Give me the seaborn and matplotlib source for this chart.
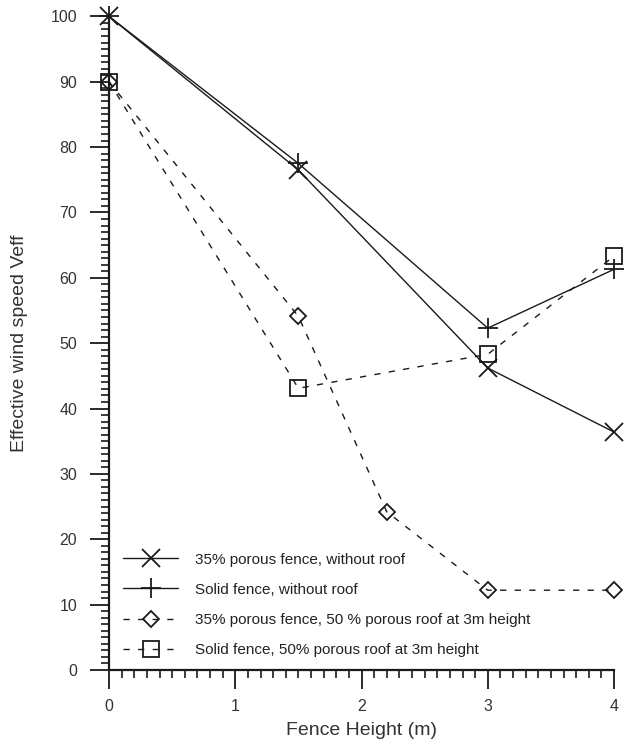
import matplotlib
matplotlib.use("Agg")
import matplotlib.pyplot as plt
import seaborn as sns
import pandas as pd
from matplotlib.ticker import MultipleLocator

# Data
x_no_roof = [0, 1.5, 3, 4]
porous_no_roof = [100, 76.5, 46.2, 36.4]
solid_no_roof = [100, 77.5, 52.3, 61.3]

x_porous_roof = [0, 1.5, 2.2, 3, 4]
porous_roof = [90, 54.1, 24.2, 12.2, 12.2]

x_solid_roof = [0, 1.5, 3, 4]
solid_roof = [90, 43.1, 48.3, 63.3]

labels = [
    "35% porous fence, without roof",
    "Solid fence, without roof",
    "35% porous fence, 50 % porous roof at 3m height",
    "Solid fence, 50% porous roof at 3m height",
]

sns.set_style("ticks")
plt.rcParams["font.family"] = ["Liberation Sans", "DejaVu Sans"]

fig = plt.figure(figsize=(6.25, 7.44), dpi=100)
ax = fig.add_axes([0.1744, 0.0995, 0.808, 0.8785])

ink = "#1a1a1a"
dash = (0, (4.5, 6))

series = [
    (x_no_roof, porous_no_roof, labels[0], "x", 13, "-"),
    (x_no_roof, solid_no_roof, labels[1], "+", 15, "-"),
    (x_porous_roof, porous_roof, labels[2], "D", 8, dash),
    (x_solid_roof, solid_roof, labels[3], "s", 12, dash),
]

for xs, ys, lab, mk, ms, ls in series:
    df = pd.DataFrame({"x": xs, "y": ys})
    sns.lineplot(data=df, x="x", y="y", ax=ax, color=ink, linewidth=1.0,
                 linestyle=ls, marker=mk, markersize=ms, markeredgewidth=1.3,
                 markerfacecolor="none", markeredgecolor=ink, label=lab,
                 clip_on=False, sort=False, errorbar=None)

ax.set_xlim(0, 4)
ax.set_ylim(0, 100)
ax.xaxis.set_major_locator(MultipleLocator(1))
ax.xaxis.set_minor_locator(MultipleLocator(0.1))
ax.yaxis.set_major_locator(MultipleLocator(10))
ax.yaxis.set_minor_locator(MultipleLocator(1))

sns.despine(ax=ax)
for s in ["left", "bottom"]:
    ax.spines[s].set_linewidth(1.6)
    ax.spines[s].set_color(ink)

ax.tick_params(axis="y", which="major", length=14, width=1.3, color=ink,
               labelsize=11.5, labelcolor="#333333", pad=9)
ax.tick_params(axis="y", which="minor", length=6, width=1.2, color=ink)
ax.tick_params(axis="x", which="major", length=14, width=1.3, color=ink,
               labelsize=11.5, labelcolor="#333333", pad=7)
ax.tick_params(axis="x", which="minor", length=6, width=1.2, color=ink)

ax.set_xlabel("Fence Height (m)", fontsize=14, color="#333333", labelpad=6)
ax.set_ylabel("Effective wind speed Veff", fontsize=14, color="#333333",
              labelpad=16)

leg = ax.legend(loc="lower left", bbox_to_anchor=(0.028, 0.02), frameon=False,
                fontsize=11, handlelength=3.6, handletextpad=1.1,
                labelspacing=1.05, borderpad=0, borderaxespad=0,
                labelcolor="#222222")

fig.savefig("out.png", dpi=100)
